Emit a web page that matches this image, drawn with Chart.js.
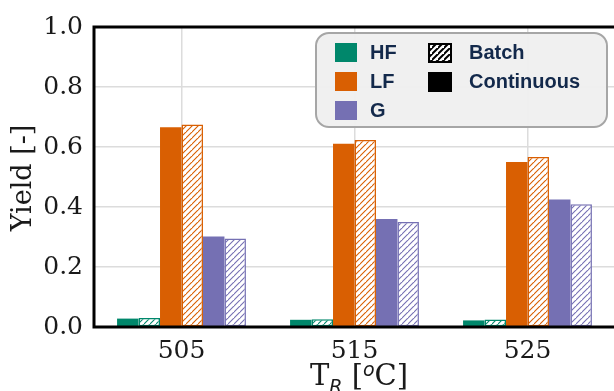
<!DOCTYPE html>
<html>
<head>
<meta charset="utf-8">
<script src="https://cdn.jsdelivr.net/npm/chart.js@4.4.0/dist/chart.umd.min.js"></script>
<style>
html,body{margin:0;padding:0;background:#fff;overflow:hidden;}
#wrap{width:614px;height:391px;position:relative;}
</style>
</head>
<body>
<div id="wrap"><canvas id="c" width="614" height="391"></canvas></div>
<script>
const categories = ['505', '515', '525'];
const hfContinuous = [0.028, 0.024, 0.022];
const hfBatch      = [0.030, 0.026, 0.025];
const lfContinuous = [0.666, 0.611, 0.550];
const lfBatch      = [0.675, 0.623, 0.567];
const gContinuous  = [0.302, 0.360, 0.425];
const gBatch       = [0.295, 0.350, 0.409];
const yTicks = [0.0, 0.2, 0.4, 0.6, 0.8, 1.0];

const colHF = '#00876b', colLF = '#d95f02', colG = '#7570b3';

function hatch(color, size, lw, bg) {
  const c = document.createElement('canvas');
  c.width = size; c.height = size;
  const x = c.getContext('2d');
  x.fillStyle = bg; x.fillRect(0,0,size,size);
  x.strokeStyle = color; x.lineWidth = lw;
  x.beginPath();
  x.moveTo(-1, size+1); x.lineTo(size+1, -1);
  x.moveTo(-1-size, size+1); x.lineTo(1, -1);
  x.moveTo(size-1, 2*size+1); x.lineTo(2*size+1, size-1);
  x.stroke();
  return document.getElementById('c').getContext('2d').createPattern(c, 'repeat');
}

function solid(label, data, color) {
  return {label, data, backgroundColor: color, borderColor: color, borderWidth: 0};
}
function hatched(label, data, color) {
  return {label, data, backgroundColor: hatch(color, 6, 1.1, '#ffffff'), borderColor: color, borderWidth: 1.5, borderSkipped: false};
}

const frame = {
  id: 'frame',
  afterDatasetsDraw(chart) {
    const {ctx, chartArea: a} = chart;
    ctx.save();
    ctx.strokeStyle = '#000'; ctx.lineWidth = 3;
    ctx.beginPath();
    ctx.moveTo(a.left - 1.5, a.top); ctx.lineTo(a.right + 2, a.top);
    ctx.moveTo(a.left - 1, a.top - 1.5); ctx.lineTo(a.left - 1, a.bottom + 1.5);
    ctx.moveTo(a.left - 1.5, a.bottom); ctx.lineTo(a.right + 2, a.bottom);
    ctx.stroke();
    ctx.restore();
  },
  afterDraw(chart) {
    const {ctx} = chart;
    ctx.save();
    ctx.fillStyle = '#1a1a1a';
    ctx.font = '27px "DejaVu Serif"';
    ctx.textAlign = 'center'; ctx.textBaseline = 'middle';
    ctx.translate(24, 178);
    ctx.rotate(-Math.PI/2);
    ctx.fillText('Yield [-]', 0, 0);
    ctx.restore();

    ctx.save();
    ctx.fillStyle = '#1a1a1a';
    ctx.textBaseline = 'alphabetic'; ctx.textAlign = 'left';
    const serif = '29px "DejaVu Serif"';
    const small = 'oblique 19px "DejaVu Sans"';
    const parts = [
      {t: 'T', f: serif, dy: 0},
      {t: 'R', f: small, dy: 8},
      {t: ' [', f: serif, dy: 0},
      {t: 'o', f: small, dy: -9},
      {t: 'C]', f: serif, dy: 0}
    ];
    let w = 0;
    parts.forEach(p => { ctx.font = p.f; p.w = ctx.measureText(p.t).width; w += p.w; });
    let x = 359 - w / 2;
    const base = 385;
    parts.forEach(p => { ctx.font = p.f; ctx.fillText(p.t, x, base + p.dy); x += p.w; });
    ctx.restore();

    ctx.save();
    const lx = 316, ly = 33, lw = 291, lh = 94, r = 13;
    ctx.beginPath();
    ctx.roundRect(lx, ly, lw, lh, r);
    ctx.fillStyle = 'rgba(239,239,239,0.95)';
    ctx.fill();
    ctx.strokeStyle = '#a6a6a6'; ctx.lineWidth = 2;
    ctx.stroke();
    ctx.font = 'bold 20px "Liberation Sans"';
    ctx.textBaseline = 'middle'; ctx.textAlign = 'left';
    const items = [
      {c: colHF, t: 'HF', y: 43}, {c: colLF, t: 'LF', y: 72}, {c: colG, t: 'G', y: 101}
    ];
    items.forEach(it => {
      ctx.fillStyle = it.c;
      ctx.fillRect(335, it.y, 22, 19);
      ctx.fillStyle = '#13294b';
      ctx.fillText(it.t, 370, it.y + 10.5);
    });
    ctx.fillStyle = hatch('#000', 6, 2, '#ffffff');
    ctx.fillRect(429, 44, 22, 18);
    ctx.strokeStyle = '#000'; ctx.lineWidth = 2;
    ctx.strokeRect(429, 44, 22, 18);
    ctx.fillStyle = '#000';
    ctx.fillRect(428, 72, 24, 20);
    ctx.fillStyle = '#13294b';
    ctx.fillText('Batch', 469, 53.5);
    ctx.fillText('Continuous', 469, 82);
    ctx.restore();
  }
};

new Chart(document.getElementById('c'), {
  type: 'bar',
  data: {
    labels: categories,
    datasets: [
      solid('HF Continuous', hfContinuous, colHF),
      hatched('HF Batch', hfBatch, colHF),
      solid('LF Continuous', lfContinuous, colLF),
      hatched('LF Batch', lfBatch, colLF),
      solid('G Continuous', gContinuous, colG),
      hatched('G Batch', gBatch, colG)
    ]
  },
  options: {
    responsive: false,
    animation: false,
    devicePixelRatio: 1,
    layout: {padding: {top: 22, right: 0, left: 0, bottom: 0}},
    datasets: {bar: {barPercentage: 1.0, categoryPercentage: 0.745}},
    plugins: {legend: {display: false}, tooltip: {enabled: false}},
    scales: {
      x: {
        grid: {offset: false, color: '#dcdcdc', lineWidth: 1.5, drawTicks: false},
        border: {display: false},
        ticks: {font: {family: 'DejaVu Serif', size: 25}, color: '#1a1a1a', padding: 9},
        afterFit(s) { s.height = 64; }
      },
      y: {
        min: 0, max: 1.0,
        afterBuildTicks(s) { s.ticks = yTicks.map(v => ({value: v})); },
        grid: {color: '#dcdcdc', lineWidth: 1.5, drawTicks: false},
        border: {display: false},
        ticks: {font: {family: 'DejaVu Serif', size: 25}, color: '#1a1a1a', padding: 12,
                callback: v => Number(v).toFixed(1)},
        afterFit(s) { s.width = 95; }
      }
    }
  },
  plugins: [frame]
});
</script>
</body>
</html>
